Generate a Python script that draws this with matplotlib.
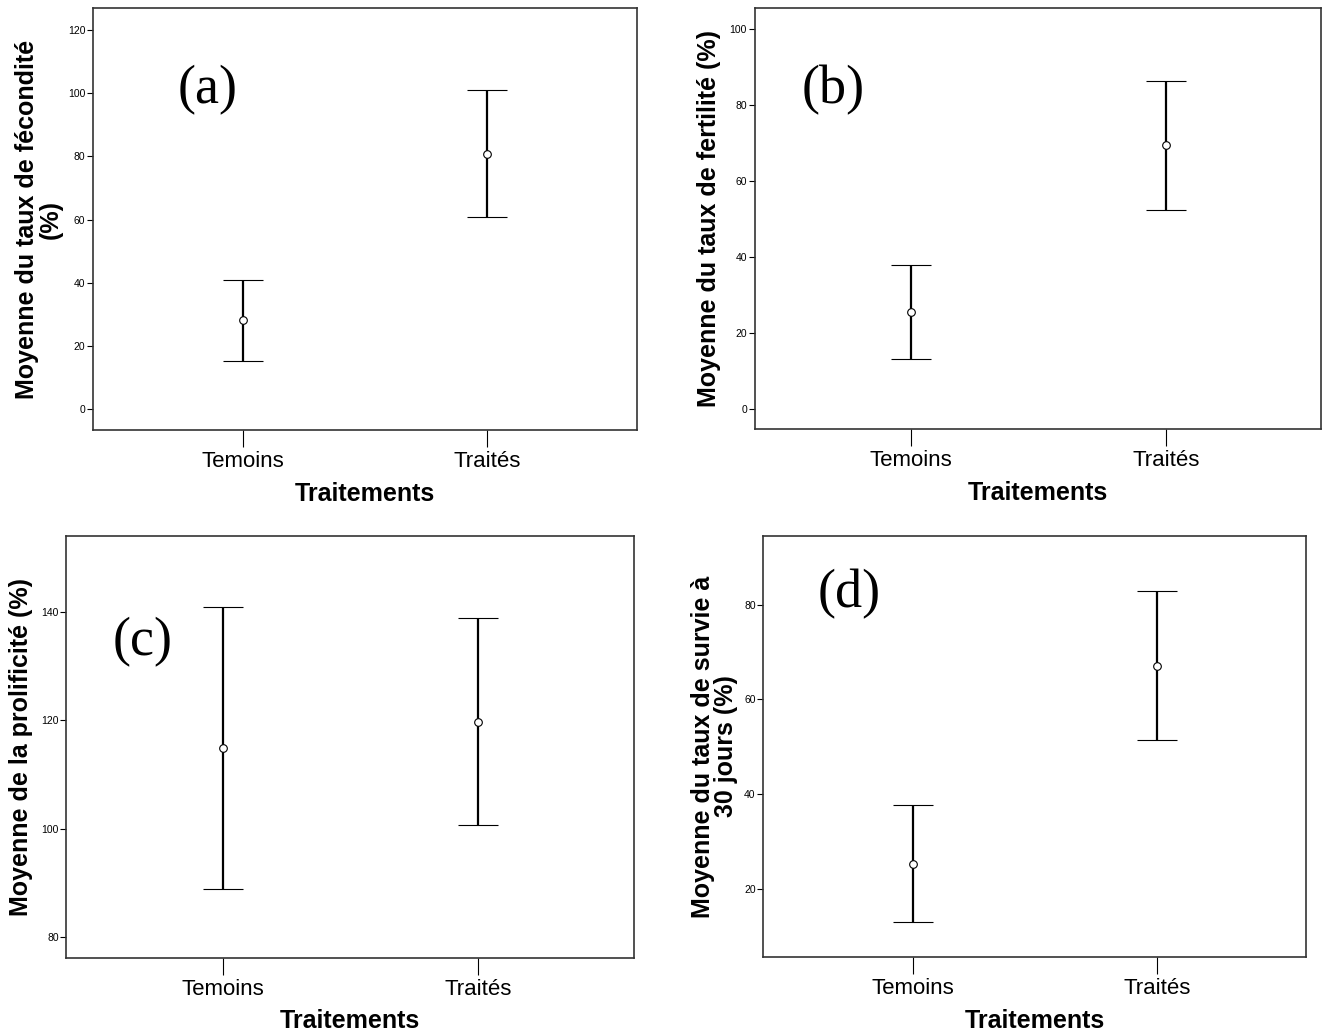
import matplotlib
matplotlib.use("Agg")
import matplotlib.pyplot as plt

plt.rcParams['font.family'] = ['Liberation Sans', 'DejaVu Sans']

categories = ["Temoins", "Traités"]

# panel (a) fécondité
a_mean = [28.3, 80.8]
a_low = [15.4, 60.7]
a_high = [40.9, 101.0]
# panel (b) fertilité
b_mean = [25.6, 69.5]
b_low = [13.2, 52.4]
b_high = [37.9, 86.3]
# panel (c) prolificité
c_mean = [114.9, 119.8]
c_low = [88.8, 100.7]
c_high = [141.0, 139.0]
# panel (d) survie à 30 jours
d_mean = [25.4, 67.1]
d_low = [13.0, 51.4]
d_high = [37.8, 82.8]

panels = [
    dict(mean=a_mean, low=a_low, high=a_high, label="(a)",
         ylabel="Moyenne du taux de fécondité\n(%)",
         yticks=[0, 20, 40, 60, 80, 100, 120], ylim=(-6.5, 126.8),
         rect=[0.0702, 0.5849, 0.4109, 0.4073], xlim=(-0.615, 1.615),
         lab_pos=(0.211, 0.805), lpad=4),
    dict(mean=b_mean, low=b_low, high=b_high, label="(b)",
         ylabel="Moyenne du taux de fertilité (%)",
         yticks=[0, 20, 40, 60, 80, 100], ylim=(-5.3, 105.5),
         rect=[0.5700, 0.5859, 0.4277, 0.4064], xlim=(-0.611, 1.607),
         lab_pos=(0.138, 0.805), lpad=6),
    dict(mean=c_mean, low=c_low, high=c_high, label="(c)",
         ylabel="Moyenne de la prolificité (%)",
         yticks=[80, 100, 120, 140], ylim=(76.1, 154.2),
         rect=[0.0501, 0.0756, 0.4290, 0.4073], xlim=(-0.613, 1.614),
         lab_pos=(0.135, 0.748), lpad=6),
    dict(mean=d_mean, low=d_low, high=d_high, label="(d)",
         ylabel="Moyenne du taux de survie à\n30 jours (%)",
         yticks=[20, 40, 60, 80], ylim=(5.67, 94.5),
         rect=[0.5765, 0.0760, 0.4099, 0.4069], xlim=(-0.613, 1.611),
         lab_pos=(0.158, 0.861), lpad=4),
]

fig = plt.figure(figsize=(13.24, 10.36), dpi=100)

for p in panels:
    ax = fig.add_axes(p["rect"])
    x = list(range(len(categories)))
    lower_err = [m - l for m, l in zip(p["mean"], p["low"])]
    upper_err = [h - m for m, h in zip(p["mean"], p["high"])]
    ax.errorbar(x, p["mean"], yerr=[lower_err, upper_err], fmt='o',
                color='black', ecolor='black', elinewidth=1.6, capsize=14.4,
                capthick=1.6, markersize=5.5, markerfacecolor='white',
                markeredgecolor='black', markeredgewidth=0.8)
    ax.set_xlim(*p["xlim"])
    ax.set_ylim(*p["ylim"])
    ax.set_yticks(p["yticks"])
    ax.set_xticks(x)
    ax.set_xticklabels(categories, fontsize=16)
    ax.tick_params(axis='y', labelsize=7.5, length=4, width=0.8, direction='out', pad=1.5)
    ax.tick_params(axis='x', length=12, width=0.8, direction='out', pad=3)
    for s in ax.spines.values():
        s.set_color('#333333')
        s.set_linewidth(1.2)
    ax.set_xlabel("Traitements", fontsize=18, fontweight='bold', labelpad=7)
    ax.set_ylabel(p["ylabel"], fontsize=18, fontweight='bold', labelpad=p["lpad"],
                  linespacing=0.95)
    ax.text(p["lab_pos"][0], p["lab_pos"][1], p["label"], transform=ax.transAxes,
            fontsize=39, family=['Liberation Serif', 'DejaVu Serif'],
            ha='center', va='center')

fig.savefig("out.png", dpi=100)
